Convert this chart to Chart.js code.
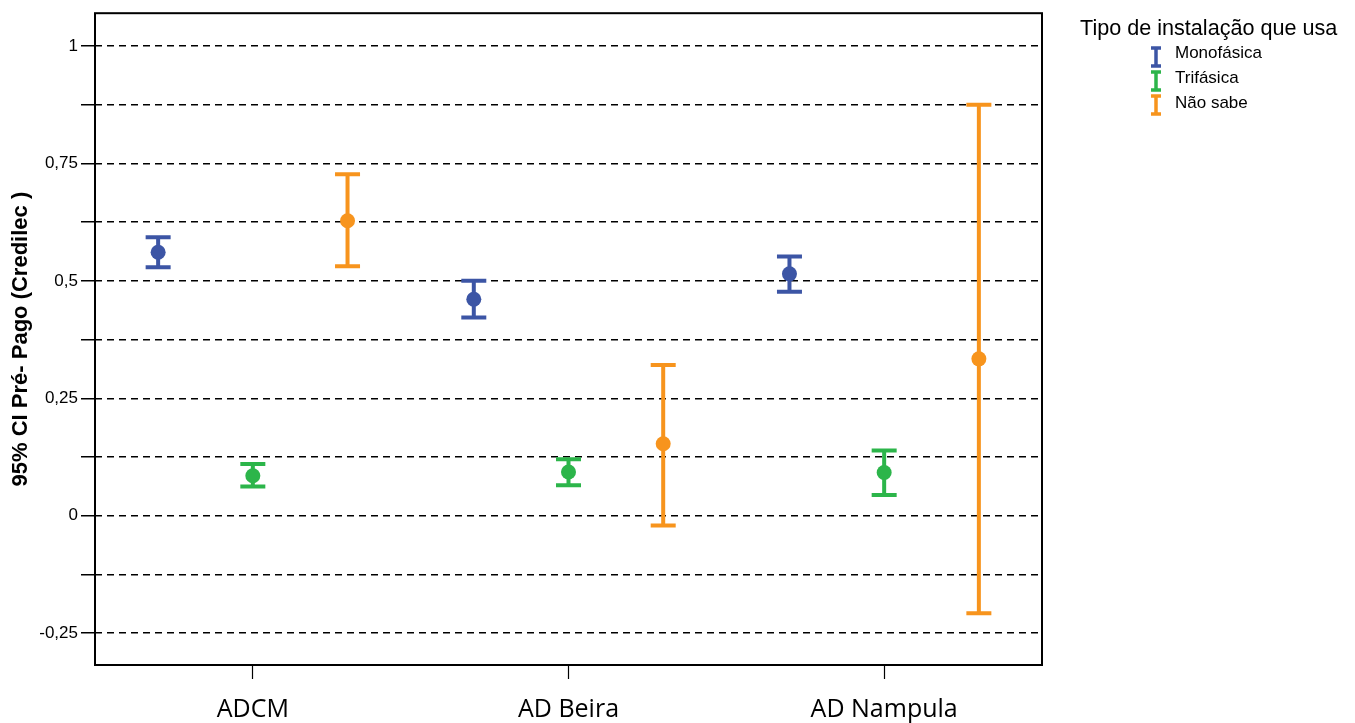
<!DOCTYPE html>
<html>
<head>
<meta charset="utf-8">
<script src="https://cdn.jsdelivr.net/npm/chart.js@4/dist/chart.umd.min.js"></script>
<style>
  html, body { margin: 0; padding: 0; background: #fff; }
  #wrap { width: 1355px; height: 723px; }
</style>
</head>
<body>
<div id="wrap"><canvas id="ciChart"></canvas></div>
<script>
const categories = ["ADCM", "AD Beira", "AD Nampula"];
const seriesNames = ["Monofásica", "Trifásica", "Não sabe"];
const seriesColors = ["#3c55a5", "#2cb54a", "#f7941d"];

// mean, lower and upper bound of the 95% CI, one value per category
const monoMean = [0.561, 0.461, 0.515];
const monoLow = [0.529, 0.422, 0.477];
const monoHigh = [0.593, 0.500, 0.552];

const triMean = [0.085, 0.093, 0.092];
const triLow = [0.062, 0.065, 0.044];
const triHigh = [0.110, 0.120, 0.139];

const naoMean = [0.628, 0.153, 0.334];
const naoLow = [0.531, -0.021, -0.208];
const naoHigh = [0.727, 0.321, 0.875];

const yTickValues = [-0.25, -0.125, 0, 0.125, 0.25, 0.375, 0.5, 0.625, 0.75, 0.875, 1];
const yTickLabels = ["-0,25", "", "0", "", "0,25", "", "0,5", "", "0,75", "", "1"];

const means = [monoMean, triMean, naoMean];
const lows = [monoLow, triLow, naoLow];
const highs = [monoHigh, triHigh, naoHigh];
const groupOffset = [-0.3, 0, 0.3];

const errorBars = {
  id: "errorBars",
  beforeDatasetsDraw(chart) {
    const ctx = chart.ctx;
    const y = chart.scales.y;
    ctx.save();
    chart.data.datasets.forEach((ds, d) => {
      const meta = chart.getDatasetMeta(d);
      ctx.strokeStyle = ds.backgroundColor;
      ctx.lineWidth = 4;
      meta.data.forEach((pt, i) => {
        const top = y.getPixelForValue(highs[d][i]);
        const bot = y.getPixelForValue(lows[d][i]);
        ctx.beginPath();
        ctx.moveTo(pt.x, top);
        ctx.lineTo(pt.x, bot);
        ctx.moveTo(pt.x - 12.5, top);
        ctx.lineTo(pt.x + 12.5, top);
        ctx.moveTo(pt.x - 12.5, bot);
        ctx.lineTo(pt.x + 12.5, bot);
        ctx.stroke();
      });
    });
    ctx.restore();
  },
  afterDraw(chart) {
    const ctx = chart.ctx;
    const a = chart.chartArea;
    ctx.save();
    // frame
    ctx.strokeStyle = "#000";
    ctx.lineWidth = 2;
    ctx.strokeRect(a.left, a.top, a.right - a.left, a.bottom - a.top);

    // legend
    ctx.fillStyle = "#000";
    ctx.textBaseline = "middle";
    ctx.textAlign = "left";
    ctx.font = "21.6px 'Liberation Sans', Arial, sans-serif";
    ctx.fillText("Tipo de instalação que usa", 1080, 29);
    ctx.font = "17px 'Liberation Sans', Arial, sans-serif";
    chart.data.datasets.forEach((ds, d) => {
      const cy = 57 + d * 24;
      ctx.strokeStyle = ds.backgroundColor;
      ctx.lineWidth = 3.5;
      ctx.beginPath();
      ctx.moveTo(1156, cy - 10);
      ctx.lineTo(1156, cy + 10);
      ctx.moveTo(1151, cy - 9);
      ctx.lineTo(1161, cy - 9);
      ctx.moveTo(1151, cy + 9);
      ctx.lineTo(1161, cy + 9);
      ctx.stroke();
      ctx.fillStyle = "#000";
      ctx.fillText(ds.label, 1175, 53 + d * 25);
    });
    ctx.restore();
  }
};

new Chart(document.getElementById("ciChart"), {
  type: "scatter",
  data: {
    datasets: seriesNames.map((name, s) => ({
      label: name,
      data: means[s].map((v, i) => ({ x: i + groupOffset[s], y: v })),
      backgroundColor: seriesColors[s],
      borderWidth: 0,
      pointRadius: 7.5,
      pointHoverRadius: 7.5,
    })),
  },
  options: {
    responsive: true,
    maintainAspectRatio: false,
    animation: false,
    events: [],
    layout: { padding: { left: 0, right: 313, top: 10, bottom: 0 } },
    plugins: {
      legend: { display: false },
      tooltip: { enabled: false },
    },
    scales: {
      x: {
        type: "linear",
        min: -0.5,
        max: 2.5,
        afterBuildTicks: (scale) => {
          scale.ticks = categories.map((c, i) => ({ value: i }));
        },
        afterFit: (scale) => {
          scale.height = 58;
        },
        grid: {
          drawOnChartArea: false,
          drawTicks: true,
          tickLength: 14,
          tickColor: "#000",
          tickWidth: 1.2,
        },
        border: { display: false },
        ticks: {
          color: "#000",
          font: { family: "'Open Sans', sans-serif", size: 25 },
          padding: 16,
          maxRotation: 0,
          autoSkip: false,
          callback: (v) => categories[v],
        },
      },
      y: {
        min: -0.318,
        max: 1.07,
        afterBuildTicks: (scale) => {
          scale.ticks = yTickValues.map((v) => ({ value: v }));
        },
        afterFit: (scale) => {
          scale.width = 95;
        },
        grid: {
          color: "#000",
          lineWidth: 1.5,
          drawTicks: true,
          tickLength: 14,
          tickColor: "#000",
          tickWidth: 1.5,
        },
        border: { display: false, dash: [7, 5] },
        ticks: {
          color: "#000",
          font: { family: "'Liberation Sans', Arial, sans-serif", size: 17 },
          padding: 3,
          autoSkip: false,
          callback: (v) => yTickLabels[yTickValues.indexOf(v)],
        },
        title: {
          display: true,
          text: "95% CI Pré- Pago (Credilec )",
          color: "#000",
          font: { family: "'Liberation Sans', Arial, sans-serif", size: 22, weight: "bold" },
          padding: { top: 8, bottom: 0 },
        },
      },
    },
  },
  plugins: [errorBars],
});
</script>
</body>
</html>
